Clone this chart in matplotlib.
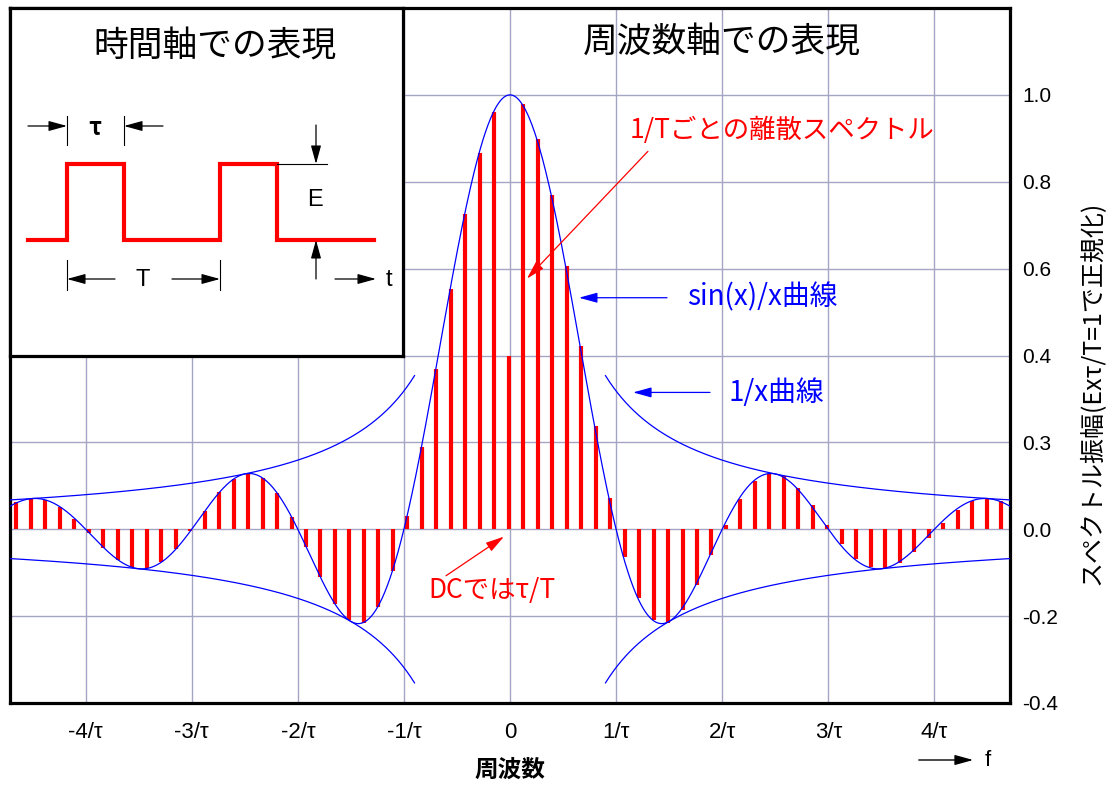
import numpy as np
import matplotlib
matplotlib.use("Agg")
from matplotlib import pyplot as plt

plt.rcParams["font.family"] = ["Noto Sans CJK JP", "DejaVu Sans"]

# 周波数軸の目盛り（1/τ 単位）
freq_ticks = [-4, -3, -2, -1, 0, 1, 2, 3, 4]
freq_labels = ["-4/τ", "-3/τ", "-2/τ", "-1/τ", "0", "1/τ", "2/τ", "3/τ", "4/τ"]
amp_ticks = [-0.4, -0.2, 0.0, 0.2, 0.4, 0.6, 0.8, 1.0]
amp_labels = ["-0.4", "-0.2", "0.0", "0.3", "0.4", "0.6", "0.8", "1.0"]

# 離散スペクトル: 番号 k と振幅
line_k = list(range(-34, 35))
line_amp = [
    0.062, 0.071, 0.067, 0.051, 0.024, -0.009, -0.043, -0.071, -0.088, -0.090,
    -0.075, -0.045, -0.004, 0.042, 0.085, 0.116, 0.128, 0.118, 0.083, 0.029,
    -0.040, -0.111, -0.172, -0.210, -0.215, -0.178, -0.095, 0.030, 0.189, 0.369,
    0.554, 0.726, 0.867, 0.961, 0.40,
    0.978, 0.898, 0.769, 0.605, 0.421, 0.238, 0.071, -0.064, -0.158, -0.209,
    -0.215, -0.186, -0.129, -0.060, 0.010, 0.070, 0.111, 0.128, 0.122, 0.095,
    0.055, 0.009, -0.035, -0.069, -0.088, -0.090, -0.077, -0.052, -0.019, 0.015,
    0.044, 0.064, 0.071, 0.065,
]
line_step = 0.1365   # 1/T（τ 単位）
line_offset = -0.012

# 時間軸の矩形パルス（インセット内の座標）
pulse_t = [18, 57, 57, 114, 114, 210, 210, 267, 267, 364]
pulse_v = [232, 232, 156, 156, 232, 232, 156, 156, 232, 232]

XMAX = 4.713
W, H = 1107, 785

fig = plt.figure(figsize=(W / 100, H / 100), dpi=100)
ax = fig.add_axes([10 / W, 1 - 703 / H, 1000 / W, 695 / H])

# 理論曲線 sin(x)/x と包絡線 1/x
xs = np.linspace(-XMAX, XMAX, 2001)
ax.plot(xs, np.sinc(xs), color="#0000ff", lw=0.9, zorder=3)
for sign in (-1, 1):
    xe = sign * np.linspace(0.9, XMAX, 400)
    ax.plot(xe, 1 / (np.pi * np.abs(xe)), color="#0000ff", lw=0.9, zorder=3)
    ax.plot(xe, -1 / (np.pi * np.abs(xe)), color="#0000ff", lw=0.9, zorder=3)

line_freq = line_offset + line_step * np.array(line_k)
ax.vlines(line_freq, 0, line_amp, color="#ff0000", lw=3, zorder=2)

ax.set_xlim(-XMAX, XMAX)
ax.set_ylim(-0.4, 1.2)
ax.set_xticks(freq_ticks)
ax.set_xticklabels(freq_labels, fontsize=16, family=["Liberation Sans", "Noto Sans CJK JP"])
ax.set_yticks(amp_ticks)
ax.set_yticklabels(amp_labels, fontsize=15, family=["Liberation Sans", "DejaVu Sans"])
ax.yaxis.tick_right()
ax.tick_params(axis="both", length=0)
ax.tick_params(axis="y", pad=9)
ax.tick_params(axis="x", pad=14)
ax.grid(True, color="#a4a4c4", lw=1.0, zorder=1)
ax.set_axisbelow(True)
for sp in ax.spines.values():
    sp.set_linewidth(2.3)
    sp.set_color("black")

ax.text(2.0, 1.12, "周波数軸での表現", fontsize=25, ha="center", va="center", color="black")

red_arrow = dict(arrowstyle="-|>,head_length=0.8,head_width=0.22", color="#ff0000", lw=0.9,
                 mutation_scale=14, shrinkA=0, shrinkB=0)
blue_arrow = dict(arrowstyle="-|>,head_length=0.8,head_width=0.22", color="#0000ff", lw=0.9,
                  mutation_scale=14, shrinkA=0, shrinkB=0)

ax.text(2.56, 0.918, "1/Tごとの離散スペクトル", fontsize=19, color="#ff0000", ha="center", va="center")
ax.annotate("", xy=(0.16, 0.577), xytext=(1.30, 0.870), arrowprops=red_arrow)

ax.text(1.67, 0.533, "sin(x)/x曲線", fontsize=20, color="#0000ff", ha="left", va="center")
ax.annotate("", xy=(0.65, 0.533), xytext=(1.48, 0.533), arrowprops=blue_arrow)

ax.text(2.06, 0.313, "1/x曲線", fontsize=20, color="#0000ff", ha="left", va="center")
ax.annotate("", xy=(1.16, 0.315), xytext=(1.885, 0.315), arrowprops=blue_arrow)

ax.text(-0.17, -0.141, "DCではτ/T", fontsize=19, color="#ff0000", ha="center", va="center")
ax.annotate("", xy=(-0.057, -0.017), xytext=(-0.603, -0.107), arrowprops=red_arrow)

fig.text(510 / W, 1 - 770 / H, "周波数", fontsize=17, fontweight="bold", ha="center", va="center")
fig.text(1092 / W, 1 - 393 / H, "スペクトル振幅(Exτ/T=1で正規化)", fontsize=18,
         rotation=90, ha="center", va="center")
fig.text(988 / W, 1 - 760 / H, "f", fontsize=16, ha="center", va="center",
         family=["Liberation Sans", "DejaVu Sans"])
fig.patches.append(matplotlib.patches.FancyArrowPatch(
    (916 / W, 1 - 760 / H), (976 / W, 1 - 760 / H), transform=fig.transFigure,
    arrowstyle="-|>,head_length=0.8,head_width=0.22", mutation_scale=14, color="black", lw=1))

# インセット: 時間軸での表現
ins = fig.add_axes([10 / W, 1 - 356 / H, 393 / W, 348 / H])
ins.set_xlim(0, 393)
ins.set_ylim(348, 0)
ins.set_xticks([])
ins.set_yticks([])
ins.set_facecolor("white")
for sp in ins.spines.values():
    sp.set_linewidth(2.3)
ins.text(205, 39, "時間軸での表現", fontsize=25, ha="center", va="center", color="black")
ins.plot(pulse_t, pulse_v, color="#ff0000", lw=3, solid_joinstyle="miter")

black_arrow = dict(arrowstyle="-|>,head_length=0.8,head_width=0.22", color="black", lw=0.9,
                   mutation_scale=14, shrinkA=0, shrinkB=0)
# τ
ins.plot([57, 57], [108, 137], color="black", lw=0.8)
ins.plot([114, 114], [108, 137], color="black", lw=0.8)
ins.annotate("", xy=(57, 118), xytext=(18, 118), arrowprops=black_arrow)
ins.annotate("", xy=(114, 118), xytext=(153, 118), arrowprops=black_arrow)
ins.text(85, 120, "τ", fontsize=17, fontweight="bold", ha="center", va="center")
# E
ins.plot([267, 317], [156, 156], color="black", lw=0.8)
ins.annotate("", xy=(306, 156), xytext=(306, 117), arrowprops=black_arrow)
ins.annotate("", xy=(306, 232), xytext=(306, 271), arrowprops=black_arrow)
ins.text(305, 192, "E", fontsize=17, ha="center", va="center", family=["Liberation Sans", "DejaVu Sans"])
# T
ins.plot([57, 57], [252, 282], color="black", lw=0.8)
ins.plot([210, 210], [252, 282], color="black", lw=0.8)
ins.annotate("", xy=(57, 271), xytext=(105, 271), arrowprops=black_arrow)
ins.annotate("", xy=(210, 271), xytext=(162, 271), arrowprops=black_arrow)
ins.text(133, 272, "T", fontsize=17, ha="center", va="center", family=["Liberation Sans", "DejaVu Sans"])
# t
ins.annotate("", xy=(366, 271), xytext=(325, 271), arrowprops=black_arrow)
ins.text(379, 272, "t", fontsize=17, ha="center", va="center", family=["Liberation Sans", "DejaVu Sans"])

fig.savefig("out.png", dpi=100)
